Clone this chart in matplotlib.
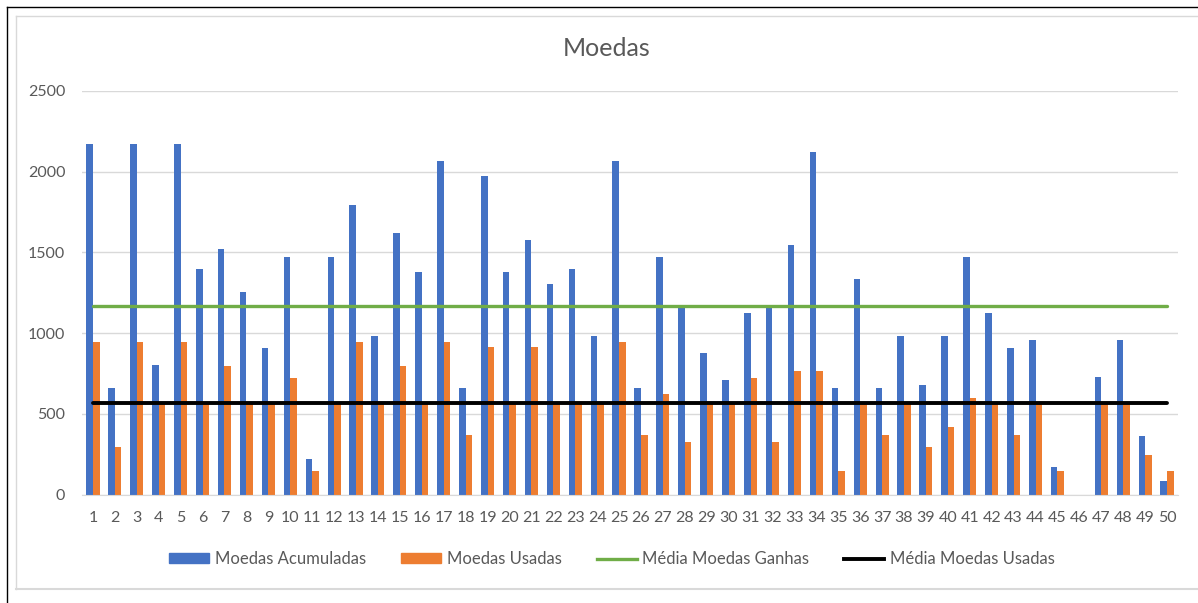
import numpy as np
import matplotlib.pyplot as plt
from matplotlib.lines import Line2D

# dados
jogadores = list(range(1, 51))
acumuladas = [2170, 663, 2170, 805, 2170, 1400, 1520, 1257, 908, 1474,
              219, 1474, 1794, 983, 1623, 1379, 2068, 663, 1974, 1379,
              1577, 1305, 1398, 983, 2068, 663, 1474, 1154, 880, 708,
              1125, 1154, 1548, 2124, 663, 1334, 663, 983, 681, 983,
              1474, 1125, 908, 956, 173, 0, 729, 956, 361, 87]
usadas = [945, 295, 945, 560, 945, 560, 795, 560, 560, 721,
          145, 560, 945, 560, 795, 560, 945, 370, 917, 560,
          917, 560, 560, 560, 945, 370, 626, 324, 560, 560,
          721, 324, 766, 766, 145, 560, 370, 560, 295, 417,
          597, 560, 370, 560, 145, 0, 560, 560, 248, 145]
media_ganhas = 1170
media_usadas = 566

azul = "#4472C4"
laranja = "#ED7D31"
verde = "#70AD47"
cinza = "#595959"

plt.rcParams['font.family'] = ['Lato', 'DejaVu Sans']

fig = plt.figure(figsize=(11.98, 6.03), dpi=100)
W, H = 1198, 603
ax = fig.add_axes([82 / W, 1 - 494.7 / H, 1096 / W, (494.7 - 91) / H])

x = np.array(jogadores)
w = 0.3
ax.bar(x - w / 2, acumuladas, width=w, color=azul, zorder=2)
ax.bar(x + w / 2, usadas, width=w, color=laranja, zorder=2)
ax.plot([x[0], x[-1]], [media_ganhas, media_ganhas], color=verde, lw=2.4, zorder=3,
        solid_capstyle='round')
ax.plot([x[0], x[-1]], [media_usadas, media_usadas], color='black', lw=2.8, zorder=3,
        solid_capstyle='round')

ax.set_xlim(0.5, 50.5)
ax.set_ylim(0, 2500)
ax.set_yticks(range(0, 2501, 500))
ax.set_xticks(x)
ax.set_xticklabels([str(i) for i in jogadores])
ax.grid(axis='y', color='#D9D9D9', lw=1)
ax.set_axisbelow(True)
for s in ['top', 'right', 'left']:
    ax.spines[s].set_visible(False)
ax.spines['bottom'].set_color('#D9D9D9')
ax.tick_params(axis='both', length=0, labelsize=11.5, labelcolor=cinza)
ax.tick_params(axis='x', pad=12)
ax.tick_params(axis='y', pad=12)

fig.text(607 / W, 1 - 49 / H, "Moedas", ha='center', va='center', fontsize=18, color=cinza)

handles = [plt.Rectangle((0, 0), 1, 1, color=azul),
           plt.Rectangle((0, 0), 1, 1, color=laranja),
           Line2D([], [], color=verde, lw=2.4),
           Line2D([], [], color='black', lw=2.8)]
labels = ["Moedas Acumuladas", "Moedas Usadas", "Média Moedas Ganhas", "Média Moedas Usadas"]
fig.legend(handles, labels, loc='center', bbox_to_anchor=(612 / W, 1 - 559 / H), ncol=4,
           frameon=False, fontsize=12, labelcolor=cinza, handlelength=2.4,
           handleheight=0.5, handletextpad=0.35, columnspacing=2.1)

# bordas
fig.add_artist(Line2D([7 / W, 7 / W], [0, 1 - 7 / H], color='black', lw=1, transform=fig.transFigure))
fig.add_artist(Line2D([7 / W, 1], [1 - 7 / H, 1 - 7 / H], color='black', lw=1, transform=fig.transFigure))
fig.add_artist(Line2D([15.5 / W, 15.5 / W], [1 - 589 / H, 1 - 16 / H], color='#D9D9D9', lw=1, transform=fig.transFigure))
fig.add_artist(Line2D([15.5 / W, 1], [1 - 16 / H, 1 - 16 / H], color='#D9D9D9', lw=1, transform=fig.transFigure))
fig.add_artist(Line2D([15.5 / W, 1], [1 - 589 / H, 1 - 589 / H], color='#D9D9D9', lw=1.5, transform=fig.transFigure))

fig.savefig("out.png", dpi=100)
